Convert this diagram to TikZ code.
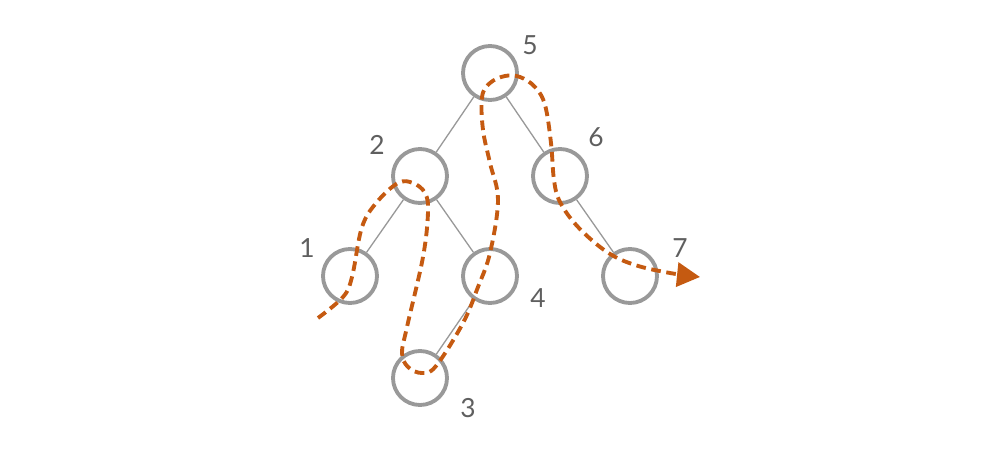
\documentclass[tikz,border=0pt]{standalone}
\usepackage{fontspec}
\setmainfont{Lato}
\usetikzlibrary{arrows.meta}
\definecolor{ringgray}{HTML}{999999}
\definecolor{numgray}{HTML}{5F5F5F}
\definecolor{walk}{HTML}{C55A11}
\tikzset{
  vtx/.style={circle, draw=ringgray, line width=2.2pt, minimum size=1.08cm, inner sep=0pt},
  num/.style={text=numgray, font=\fontsize{15}{18}\selectfont},
  link/.style={draw=ringgray, line width=0.75pt},
  tour/.style={draw=walk, line width=2.2pt, dash pattern=on 5.5pt off 3.2pt,
    -{Triangle[length=0.46cm,width=0.48cm]}}
}
\begin{document}
\begin{tikzpicture}
\useasboundingbox (0,0) rectangle (20,9);
\node[vtx] (n5) at (9.8,7.54) {};
\node[vtx] (n2) at (8.4,5.48) {};
\node[vtx] (n6) at (11.2,5.48) {};
\node[vtx] (n1) at (7.0,3.48) {};
\node[vtx] (n4) at (9.8,3.48) {};
\node[vtx] (n7) at (12.6,3.48) {};
\node[vtx] (n3) at (8.4,1.44) {};
\node[num] (l5) at (10.6,8.1) {5};
\node[num] (l2) at (7.54,6.1) {2};
\node[num] (l6) at (11.92,6.26) {6};
\node[num] (l1) at (6.14,4.04) {1};
\node[num] (l4) at (10.76,3.04) {4};
\node[num] (l7) at (13.6,4.04) {7};
\node[num] (l3) at (9.36,0.84) {3};
\draw[link] (n5) -- (n2);
\draw[link] (n5) -- (n6);
\draw[link] (n2) -- (n1);
\draw[link] (n2) -- (n4);
\draw[link] (n4) -- (n3);
\draw[link] (n6) -- (n7);
\coordinate (go) at (6.36,2.64);
\coordinate (stop) at (14.0,3.46);
\draw[tour] plot[smooth, tension=0.6] coordinates {(go) (6.86,3.06) (7.04,3.46) (7.24,4.46)
  (7.54,4.96) (7.96,5.34) (8.26,5.34) (8.5,5.14) (8.56,4.76) (8.46,3.86) (8.14,2.46)
  (8.04,1.94) (8.16,1.66) (8.44,1.54) (8.72,1.68) (9.26,2.54) (9.56,3.26) (9.8,3.94)
  (9.96,5.0) (9.8,5.74) (9.66,6.4) (9.64,7.06) (9.8,7.34) (10.1,7.48) (10.4,7.46)
  (10.7,7.26) (10.9,6.9) (11.02,6.14) (11.08,5.4) (11.2,4.96) (11.56,4.46) (12.14,3.96)
  (12.7,3.7) (13.4,3.54) (stop)};
\end{tikzpicture}
\end{document}
